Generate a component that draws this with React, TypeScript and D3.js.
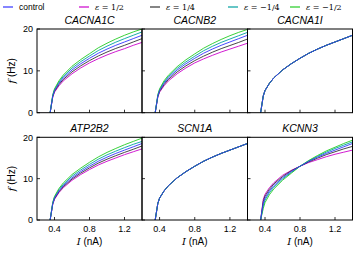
import React from "react";
import * as d3 from "d3";

const currents = [0.35, 0.38, 0.4, 0.45, 0.5, 0.6, 0.7, 0.8, 0.9, 1.0, 1.1, 1.2, 1.3, 1.4];

const control = [0, 4.0, 5.3, 7.0, 8.3, 10.2, 11.7, 13.0, 14.2, 15.2, 16.1, 16.9, 17.7, 18.5];

const cacna1cHalf = [0, 3.7, 4.9, 6.4, 7.6, 9.3, 10.7, 11.9, 12.9, 13.8, 14.6, 15.3, 16.1, 16.8];
const cacna1cQuarter = [0, 3.85, 5.1, 6.7, 7.95, 9.75, 11.2, 12.45, 13.55, 14.5, 15.35, 16.1, 16.9, 17.7];
const cacna1cMinusQuarter = [0, 4.15, 5.5, 7.3, 8.65, 10.65, 12.2, 13.55, 14.85, 15.9, 16.85, 17.7, 18.5, 19.3];
const cacna1cMinusHalf = [0, 4.3, 5.7, 7.6, 9.0, 11.1, 12.7, 14.1, 15.5, 16.6, 17.6, 18.5, 19.3, 20.0];

const cacnb2Half = [0, 3.7, 4.9, 6.4, 7.6, 9.3, 10.7, 11.9, 12.85, 13.7, 14.5, 15.2, 15.9, 16.6];
const cacnb2Quarter = [0, 3.85, 5.1, 6.7, 7.95, 9.75, 11.2, 12.45, 13.5, 14.45, 15.3, 16.05, 16.8, 17.6];
const cacnb2MinusQuarter = [0, 4.15, 5.5, 7.3, 8.6, 10.6, 12.15, 13.5, 14.8, 15.85, 16.8, 17.6, 18.4, 19.2];
const cacnb2MinusHalf = [0, 4.3, 5.7, 7.6, 8.95, 11.0, 12.65, 14.05, 15.4, 16.5, 17.5, 18.4, 19.2, 19.9];

const atp2b2Half = [0, 3.8, 5.0, 6.6, 7.8, 9.6, 11.0, 12.2, 13.3, 14.2, 15.0, 15.8, 16.5, 17.2];
const atp2b2Quarter = [0, 3.9, 5.15, 6.8, 8.05, 9.9, 11.35, 12.6, 13.75, 14.7, 15.55, 16.35, 17.1, 17.9];
const atp2b2MinusQuarter = [0, 4.15, 5.5, 7.3, 8.6, 10.6, 12.1, 13.45, 14.7, 15.75, 16.65, 17.5, 18.3, 19.0];
const atp2b2MinusHalf = [0, 4.3, 5.7, 7.6, 8.95, 11.0, 12.55, 13.95, 15.25, 16.35, 17.3, 18.2, 19.0, 19.8];

const kcnn3Half = [0, 5.0, 6.2, 7.8, 9.0, 10.8, 12.0, 13.0, 13.9, 14.6, 15.3, 15.9, 16.4, 16.9];
const kcnn3Quarter = [0, 4.5, 5.8, 7.4, 8.7, 10.5, 11.9, 13.0, 14.05, 14.95, 15.8, 16.5, 17.2, 17.8];
const kcnn3MinusQuarter = [0, 3.4, 4.8, 6.6, 7.9, 9.9, 11.5, 13.0, 14.3, 15.4, 16.4, 17.3, 18.1, 18.9];
const kcnn3MinusHalf = [0, 2.8, 4.2, 6.1, 7.5, 9.6, 11.3, 13.0, 14.4, 15.6, 16.7, 17.6, 18.5, 19.3];

const genes = ["CACNA1C", "CACNB2", "CACNA1I", "ATP2B2", "SCN1A", "KCNN3"];
const seriesLabels = ["control", "ε = 1/2", "ε = 1/4", "ε = −1/4", "ε = −1/2"];
const seriesColors = ["#3333ff", "#cc00cc", "#333333", "#00a0a0", "#22cc22"];

const xTicks = [0.4, 0.8, 1.2];
const yTicks = [0, 10, 20];

// per panel: [control, 1/2, 1/4, -1/4, -1/2]
const panelSeries: number[][][] = [
  [control, cacna1cHalf, cacna1cQuarter, cacna1cMinusQuarter, cacna1cMinusHalf],
  [control, cacnb2Half, cacnb2Quarter, cacnb2MinusQuarter, cacnb2MinusHalf],
  [control, control, control, control, control],
  [control, atp2b2Half, atp2b2Quarter, atp2b2MinusQuarter, atp2b2MinusHalf],
  [control, control, control, control, control],
  [control, kcnn3Half, kcnn3Quarter, kcnn3MinusQuarter, kcnn3MinusHalf],
];

const colEdges = [37, 142, 247.5, 352.5];
const rowEdges = [
  [29, 112.7],
  [137.3, 220],
];

const drawOrder = [1, 2, 3, 4, 0];
const SANS = "'Liberation Sans', Arial, sans-serif";
const SERIF = "'DejaVu Serif', serif";

function Panel({ idx }: { idx: number }) {
  const col = idx % 3;
  const row = Math.floor(idx / 3);
  const x0 = colEdges[col];
  const x1 = colEdges[col + 1];
  const [yTop, yBot] = rowEdges[row];
  const x = d3.scaleLinear().domain([0.2, 1.4]).range([x0, x1]);
  const y = d3.scaleLinear().domain([0, 20]).range([yBot, yTop]);
  const line = d3
    .line<number>()
    .x((_, i) => x(currents[i]))
    .y((d) => y(d));
  const series = panelSeries[idx];
  return (
    <g>
      <defs>
        <clipPath id={`clip${idx}`}>
          <rect x={x0} y={yTop} width={x1 - x0} height={yBot - yTop} />
        </clipPath>
      </defs>
      <g clipPath={`url(#clip${idx})`}>
        {drawOrder.map((s) => (
          <path key={s} d={line(series[s]) || ""} fill="none" stroke={seriesColors[s]} strokeWidth={0.9} />
        ))}
      </g>
      {xTicks.map((t) => (
        <line key={t} x1={x(t)} x2={x(t)} y1={yBot} y2={yBot - 3} stroke="#000" strokeWidth={0.8} />
      ))}
      {yTicks.map((t) => (
        <line key={t} x1={x0} x2={x0 + 3} y1={y(t)} y2={y(t)} stroke="#000" strokeWidth={0.8} />
      ))}
      <rect x={x0} y={yTop} width={x1 - x0} height={yBot - yTop} fill="none" stroke="#000" strokeWidth={1} />
      <text
        x={(x0 + x1) / 2}
        y={yTop - 5}
        textAnchor="middle"
        fontFamily={SANS}
        fontStyle="italic"
        fontSize={10.5}
      >
        {genes[idx]}
      </text>
      {col === 0 &&
        yTicks.map((t) => (
          <text key={t} x={x0 - 4} y={y(t) + 3.2} textAnchor="end" fontFamily={SANS} fontSize={9}>
            {t}
          </text>
        ))}
      {col === 0 && (
        <text
          transform={`translate(15,${(yTop + yBot) / 2}) rotate(-90)`}
          textAnchor="middle"
          fontFamily={SANS}
          fontSize={10}
        >
          <tspan fontFamily={SERIF} fontStyle="italic">f</tspan> (Hz)
        </text>
      )}
      {row === 1 &&
        xTicks.map((t) => (
          <text key={t} x={x(t)} y={yBot + 11.5} textAnchor="middle" fontFamily={SANS} fontSize={9}>
            {t.toFixed(1)}
          </text>
        ))}
      {row === 1 && (
        <text x={(x0 + x1) / 2} y={yBot + 25} textAnchor="middle" fontFamily={SANS} fontSize={10}>
          <tspan fontFamily={SERIF} fontStyle="italic">I</tspan> (nA)
        </text>
      )}
    </g>
  );
}

const legendX = [3, 79, 150, 228, 290];

export default function App() {
  return (
    <svg
      width={359}
      height={257}
      style={{ position: "absolute", left: 0, top: 0, background: "#fff" }}
    >
      {seriesLabels.map((lab, i) => (
        <g key={lab}>
          <line x1={legendX[i]} x2={legendX[i] + 10} y1={7} y2={7} stroke={seriesColors[i]} strokeWidth={1.2} />
          <text
            x={legendX[i] + 16}
            y={10}
            fontFamily={i === 0 ? SANS : SERIF}
            fontSize={i === 0 ? 8.5 : 8}
          >
            {i === 0 ? (
              lab
            ) : (
              <>
                <tspan fontStyle="italic">ε</tspan>
                {lab.slice(1)}
              </>
            )}
          </text>
        </g>
      ))}
      {genes.map((_, i) => (
        <Panel key={i} idx={i} />
      ))}
    </svg>
  );
}
